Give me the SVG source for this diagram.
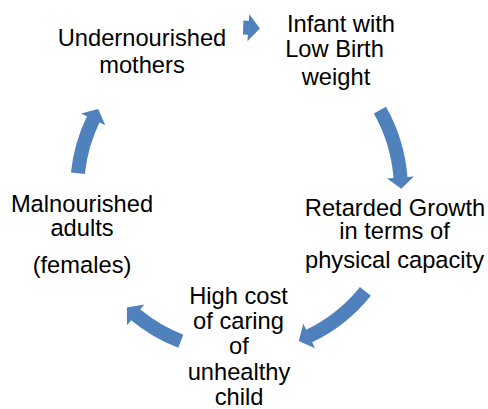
<svg xmlns="http://www.w3.org/2000/svg" width="488" height="409" viewBox="0 0 488 409">
  <defs>
    <style>
      .lbl { font-family: "Liberation Sans", Arial, sans-serif; font-size: 23.7px; fill: #000; text-anchor: middle; }
      .arc { fill: none; stroke: #4F81BD; stroke-width: 14; stroke-linecap: butt; }
    </style>
    <!-- block arrowhead, base centred on the end of each arc -->
    <marker id="head" markerUnits="userSpaceOnUse" viewBox="0 0 12 28" markerWidth="12" markerHeight="28" refX="0.5" refY="14" orient="auto" overflow="visible">
      <path d="M0,0.5 L11.5,14 L0,27.5 Z" fill="#4F81BD"/>
    </marker>
  </defs>

  <rect width="488" height="409" fill="#fff"/>

  <!-- cycle arcs, all on one circle centred at (239,190), r = 162 -->
  <g id="connectors">
    <path class="arc" marker-end="url(#head)" d="M243.2,27.5 A162,162 0 0 1 248.9,27.8"/>
    <path class="arc" marker-end="url(#head)" d="M379.9,110.1 A162,162 0 0 1 400.5,177.9"/>
    <path class="arc" marker-end="url(#head)" d="M365.4,291.3 A162,162 0 0 1 308.7,336.2"/>
    <path class="arc" marker-end="url(#head)" d="M180.8,341.2 A162,162 0 0 1 135.3,314.5"/>
    <path class="arc" marker-end="url(#head)" d="M77.9,173.3 A162,162 0 0 1 93.4,119.0"/>
  </g>

  <g id="node-mothers">
    <text class="lbl" x="142" y="46">Undernourished</text>
    <text class="lbl" x="142" y="73">mothers</text>
  </g>

  <g id="node-infant">
    <text class="lbl" x="341" y="32">Infant with</text>
    <text class="lbl" x="334.5" y="57">Low Birth</text>
    <text class="lbl" x="336" y="85">weight</text>
  </g>

  <g id="node-growth">
    <text class="lbl" x="395" y="216">Retarded Growth</text>
    <text class="lbl" x="394.5" y="239">in terms of</text>
    <text class="lbl" x="394.5" y="268">physical capacity</text>
  </g>

  <g id="node-cost">
    <text class="lbl" x="238.5" y="304">High cost</text>
    <text class="lbl" x="238.5" y="329">of caring</text>
    <text class="lbl" x="239" y="354">of</text>
    <text class="lbl" x="239" y="380">unhealthy</text>
    <text class="lbl" x="239" y="405">child</text>
  </g>

  <g id="node-adults">
    <text class="lbl" x="82" y="212">Malnourished</text>
    <text class="lbl" x="82" y="236">adults</text>
    <text class="lbl" x="82" y="273">(females)</text>
  </g>
</svg>
